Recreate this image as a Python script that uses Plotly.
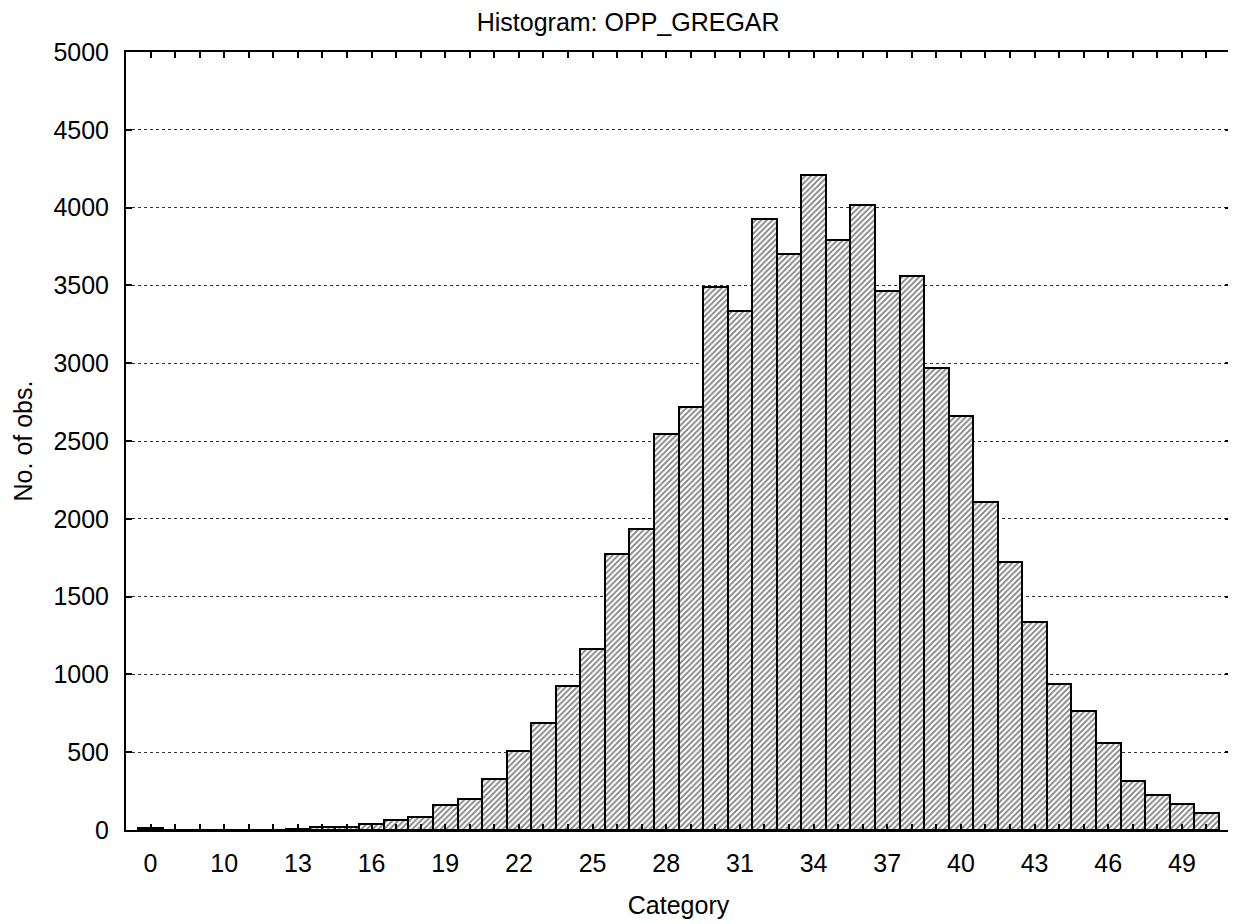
import plotly.graph_objects as go

title_text = "Histogram: OPP_GREGAR"
x_title = "Category"
y_title = "No. of obs."

categories = ["0", "8", "9", "10", "11", "12", "13", "14", "15", "16", "17", "18",
              "19", "20", "21", "22", "23", "24", "25", "26", "27", "28", "29", "30",
              "31", "32", "33", "34", "35", "36", "37", "38", "39", "40", "41", "42",
              "43", "44", "45", "46", "47", "48", "49", "50"]
counts = [10, 1, 1, 1, 2, 2, 5, 18, 20, 38, 64, 85,
          162, 198, 329, 510, 685, 928, 1162, 1775, 1935, 2548, 2716, 3487,
          3333, 3924, 3704, 4210, 3790, 4017, 3462, 3558, 2968, 2663, 2110, 1725,
          1339, 936, 765, 561, 315, 223, 169, 111]

y_ticks = [0, 500, 1000, 1500, 2000, 2500, 3000, 3500, 4000, 4500, 5000]
tick_text = [c if i % 3 == 0 else "" for i, c in enumerate(categories)]

FONT = "Liberation Sans, Arial, Helvetica, sans-serif"

fig = go.Figure()
fig.add_trace(go.Bar(
    x=categories,
    y=counts,
    width=1.0,
    marker=dict(
        color="white",
        line=dict(color="black", width=2),
        pattern=dict(shape="/", fgcolor="black", bgcolor="white", size=4, solidity=0.45),
    ),
    showlegend=False,
))

fig.update_layout(
    width=1228, height=916,
    margin=dict(l=118, r=3, t=44, b=94),
    paper_bgcolor="white", plot_bgcolor="white",
    font=dict(family=FONT, size=25, color="black"),
    bargap=0,
    title=dict(text=title_text, x=0.505, xref="container", xanchor="center",
               y=0.985, yref="container", yanchor="middle",
               font=dict(family=FONT, size=25, color="black")),
)

fig.update_xaxes(
    type="category",
    categoryorder="array", categoryarray=categories,
    range=[-1, 44],
    tickmode="array", tickvals=categories, ticktext=tick_text,
    ticks="inside", ticklen=6, tickwidth=1.5, tickcolor="black",
    showline=True, linecolor="black", linewidth=2, mirror="ticks",
    showgrid=False, zeroline=False,
    tickfont=dict(family=FONT, size=25, color="black"),
    ticklabelstandoff=10,
    title=dict(text=x_title, font=dict(family=FONT, size=25, color="black"), standoff=20),
)

fig.update_yaxes(
    range=[0, 5000],
    tickmode="array", tickvals=y_ticks, ticktext=[str(v) for v in y_ticks],
    ticks="inside", ticklen=6, tickwidth=1.5, tickcolor="black",
    showline=True, linecolor="black", linewidth=2, mirror="ticks",
    showgrid=True, gridcolor="#333333", gridwidth=1, griddash="dot",
    zeroline=False,
    tickfont=dict(family=FONT, size=25, color="black"),
    ticklabelstandoff=10,
    title=dict(text=y_title, font=dict(family=FONT, size=25, color="black"), standoff=14),
)

fig.write_html("out.html")
